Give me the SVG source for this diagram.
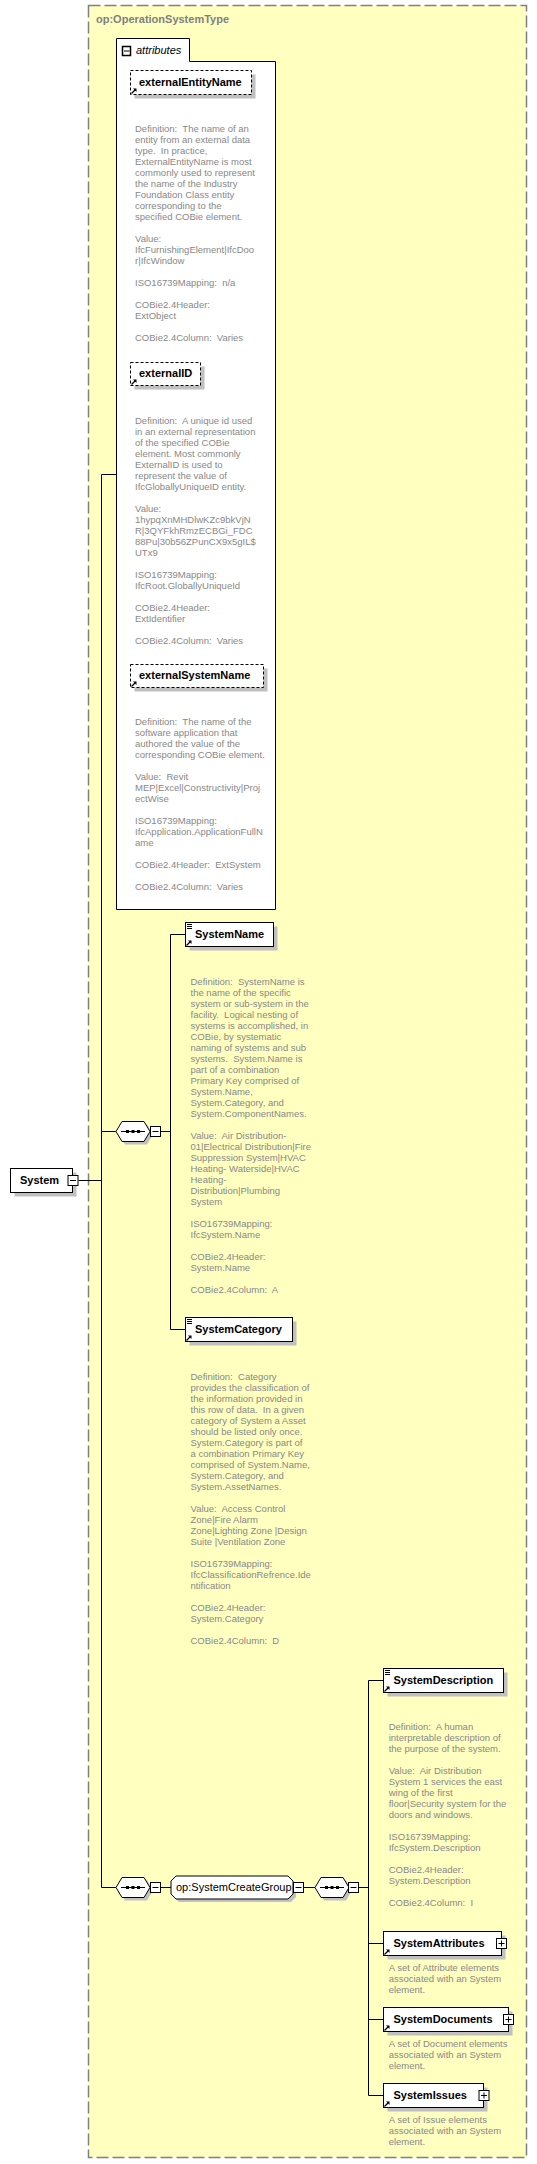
<svg xmlns="http://www.w3.org/2000/svg" width="537" height="2164" viewBox="0 0 537 2164">
<style>
.bg{fill:#ffffff}
.type{fill:#ffffc0;stroke:#808080;stroke-width:1.5;stroke-dasharray:12,4}
.title{font-family:"Liberation Sans",Arial,sans-serif;font-size:11px;font-weight:bold;fill:#808080}
.box{fill:#ffffff;stroke:#000000;stroke-width:1}
.abox{fill:#ffffff;stroke:#000000;stroke-width:1;stroke-dasharray:3,2}
.shadow{fill:#c0c0c0;stroke:none}
.lbl{font-family:"Liberation Sans",Arial,sans-serif;font-size:11px;font-weight:bold;fill:#000000}
.lblr{font-family:"Liberation Sans",Arial,sans-serif;font-size:11px;fill:#000000}
.ital{font-family:"Liberation Sans",Arial,sans-serif;font-size:11px;font-style:italic;fill:#000000}
.desc{font-family:"Liberation Sans",Arial,sans-serif;font-size:9.5px;fill:#888888}
.conn{fill:none;stroke:#000000;stroke-width:1}
.icon{fill:none;stroke:#000000;stroke-width:1}
</style>
<defs>
<g id="minus"><rect x="0.5" y="0.5" width="10" height="10" fill="#ffffff" stroke="#000" stroke-width="1"/><path d="M2.5,5.5 H8.5" stroke="#000" stroke-width="1"/></g>
<g id="plus"><rect x="0.5" y="0.5" width="10" height="10" fill="#ffffff" stroke="#000" stroke-width="1"/><path d="M2.5,5.5 H8.5 M5.5,2.5 V8.5" stroke="#000" stroke-width="1"/></g>
<g id="refarrow"><path d="M0.5,5.5 L4,2" stroke="#000" stroke-width="1.2"/><polygon points="2,0.5 5.5,0.5 5.5,4" fill="#000"/></g>
<g id="simple"><path d="M0,0.5 H5 M0,2.5 H5 M0,4.5 H5" stroke="#000" stroke-width="1"/></g>
<g id="seq"><polygon points="3,3 9,-7 31,-7 37,3 31,13 9,13" fill="#c0c0c0" transform="translate(0,0)"/><polygon points="0,0 6,-10 28,-10 34,0 28,10 6,10" fill="#ffffff" stroke="#000" stroke-width="1"/><path d="M5,0 H29" stroke="#000" stroke-width="1"/><rect x="10" y="-1.5" width="3" height="3" fill="#000"/><rect x="15.5" y="-1.5" width="3" height="3" fill="#000"/><rect x="21" y="-1.5" width="3" height="3" fill="#000"/></g>
</defs>

<rect class="type" x="88.5" y="5.5" width="438" height="2152"/>
<text class="title" x="96" y="23">op:OperationSystemType</text>

<g id="connectors">
<path class="conn" d="M101.5,474.5 H116.5"/>
<path class="conn" d="M101.5,474.5 V1887.5 H116"/>
<path class="conn" d="M78.5,1180.5 H101.5"/>
<path class="conn" d="M101.5,1131.5 H116"/>
<path class="conn" d="M161,1131.5 H170.5"/>
<path class="conn" d="M170.5,934.5 V1329.5"/>
<path class="conn" d="M170.5,934.5 H185.5"/>
<path class="conn" d="M170.5,1329.5 H185.5"/>
<path class="conn" d="M161,1887.5 H171"/>
<path class="conn" d="M304,1887.5 H315"/>
<path class="conn" d="M359,1887.5 H368.5"/>
<path class="conn" d="M368.5,1680.5 V2095.5"/>
<path class="conn" d="M368.5,1680.5 H383.5"/>
<path class="conn" d="M368.5,1943.5 H383.5"/>
<path class="conn" d="M368.5,2019.5 H383.5"/>
<path class="conn" d="M368.5,2095.5 H383.5"/>
</g>

<g id="attributes">
<path class="box" d="M116.5,909.5 V38.5 H189.5 V61.5 H275.5 V909.5 Z"/>
<rect x="122.5" y="46.5" width="8" height="9" fill="#fff" stroke="#000" stroke-width="1.5"/>
<path d="M124,51 H129.5" stroke="#000" stroke-width="1"/>
<text class="ital" x="136" y="54">attributes</text>
</g>

<g id="externalEntityName">
<rect class="shadow" x="134.5" y="74.5" width="121" height="24"/>
<rect class="abox" x="130.5" y="70.5" width="121" height="24"/>
<use href="#refarrow" x="131" y="88"/>
<text class="lbl" x="139" y="86">externalEntityName</text>
<text class="desc" xml:space="preserve"><tspan x="135" y="132.2">Definition:  The name of an</tspan><tspan x="135" dy="11">entity from an external data</tspan><tspan x="135" dy="11">type.  In practice,</tspan><tspan x="135" dy="11">ExternalEntityName is most</tspan><tspan x="135" dy="11">commonly used to represent</tspan><tspan x="135" dy="11">the name of the Industry</tspan><tspan x="135" dy="11">Foundation Class entity</tspan><tspan x="135" dy="11">corresponding to the</tspan><tspan x="135" dy="11">specified COBie element.</tspan><tspan x="135" dy="22">Value:</tspan><tspan x="135" dy="11">IfcFurnishingElement|IfcDoo</tspan><tspan x="135" dy="11">r|IfcWindow</tspan><tspan x="135" dy="22">ISO16739Mapping:  n/a</tspan><tspan x="135" dy="22">COBie2.4Header:</tspan><tspan x="135" dy="11">ExtObject</tspan><tspan x="135" dy="22">COBie2.4Column:  Varies</tspan></text>
</g>

<g id="externalID">
<rect class="shadow" x="134.5" y="366.5" width="70" height="23"/>
<rect class="abox" x="130.5" y="362.5" width="70" height="23"/>
<use href="#refarrow" x="131" y="379"/>
<text class="lbl" x="139" y="377">externalID</text>
<text class="desc" xml:space="preserve"><tspan x="135" y="423.5">Definition:  A unique id used</tspan><tspan x="135" dy="11">in an external representation</tspan><tspan x="135" dy="11">of the specified COBie</tspan><tspan x="135" dy="11">element. Most commonly</tspan><tspan x="135" dy="11">ExternalID is used to</tspan><tspan x="135" dy="11">represent the value of</tspan><tspan x="135" dy="11">IfcGloballyUniqueID entity.</tspan><tspan x="135" dy="22">Value:</tspan><tspan x="135" dy="11">1hypqXnMHDlwKZc9bkVjN</tspan><tspan x="135" dy="11">R|3QYFkhRmzECBGi_FDC</tspan><tspan x="135" dy="11">88Pu|30b56ZPunCX9x5gIL$</tspan><tspan x="135" dy="11">UTx9</tspan><tspan x="135" dy="22">ISO16739Mapping:</tspan><tspan x="135" dy="11">IfcRoot.GloballyUniqueId</tspan><tspan x="135" dy="22">COBie2.4Header:</tspan><tspan x="135" dy="11">ExtIdentifier</tspan><tspan x="135" dy="22">COBie2.4Column:  Varies</tspan></text>
</g>

<g id="externalSystemName">
<rect class="shadow" x="134.5" y="668.5" width="133" height="23"/>
<rect class="abox" x="130.5" y="664.5" width="133" height="23"/>
<use href="#refarrow" x="131" y="681"/>
<text class="lbl" x="139" y="679">externalSystemName</text>
<text class="desc" xml:space="preserve"><tspan x="135" y="725">Definition:  The name of the</tspan><tspan x="135" dy="11">software application that</tspan><tspan x="135" dy="11">authored the value of the</tspan><tspan x="135" dy="11">corresponding COBie element.</tspan><tspan x="135" dy="22">Value:  Revit</tspan><tspan x="135" dy="11">MEP|Excel|Constructivity|Proj</tspan><tspan x="135" dy="11">ectWise</tspan><tspan x="135" dy="22">ISO16739Mapping:</tspan><tspan x="135" dy="11">IfcApplication.ApplicationFullN</tspan><tspan x="135" dy="11">ame</tspan><tspan x="135" dy="22">COBie2.4Header:  ExtSystem</tspan><tspan x="135" dy="22">COBie2.4Column:  Varies</tspan></text>
</g>

<g id="System">
<rect class="shadow" x="14.5" y="1172.5" width="62" height="24"/>
<rect class="box" x="10.5" y="1168.5" width="62" height="24"/>
<text class="lbl" x="20" y="1184">System</text>
<use href="#minus" x="67.5" y="1175"/>
</g>

<g id="seq1">
<use href="#seq" x="116" y="1131.5"/>
<use href="#minus" x="150" y="1126"/>
</g>

<g id="SystemName">
<rect class="shadow" x="189.5" y="926.5" width="88" height="24"/>
<rect class="box" x="185.5" y="922.5" width="88" height="24"/>
<use href="#simple" x="187" y="924"/>
<use href="#refarrow" x="186" y="940"/>
<text class="lbl" x="195" y="938">SystemName</text>
<text class="desc" xml:space="preserve"><tspan x="190.5" y="984.5">Definition:  SystemName is</tspan><tspan x="190.5" dy="11">the name of the specific</tspan><tspan x="190.5" dy="11">system or sub-system in the</tspan><tspan x="190.5" dy="11">facility.  Logical nesting of</tspan><tspan x="190.5" dy="11">systems is accomplished, in</tspan><tspan x="190.5" dy="11">COBie, by systematic</tspan><tspan x="190.5" dy="11">naming of systems and sub</tspan><tspan x="190.5" dy="11">systems.  System.Name is</tspan><tspan x="190.5" dy="11">part of a combination</tspan><tspan x="190.5" dy="11">Primary Key comprised of</tspan><tspan x="190.5" dy="11">System.Name,</tspan><tspan x="190.5" dy="11">System.Category, and</tspan><tspan x="190.5" dy="11">System.ComponentNames.</tspan><tspan x="190.5" dy="22">Value:  Air Distribution-</tspan><tspan x="190.5" dy="11">01|Electrical Distribution|Fire</tspan><tspan x="190.5" dy="11">Suppression System|HVAC</tspan><tspan x="190.5" dy="11">Heating- Waterside|HVAC</tspan><tspan x="190.5" dy="11">Heating-</tspan><tspan x="190.5" dy="11">Distribution|Plumbing</tspan><tspan x="190.5" dy="11">System</tspan><tspan x="190.5" dy="22">ISO16739Mapping:</tspan><tspan x="190.5" dy="11">IfcSystem.Name</tspan><tspan x="190.5" dy="22">COBie2.4Header:</tspan><tspan x="190.5" dy="11">System.Name</tspan><tspan x="190.5" dy="22">COBie2.4Column:  A</tspan></text>
</g>

<g id="SystemCategory">
<rect class="shadow" x="189.5" y="1321.5" width="107" height="24"/>
<rect class="box" x="185.5" y="1317.5" width="107" height="24"/>
<use href="#simple" x="187" y="1319"/>
<use href="#refarrow" x="186" y="1335"/>
<text class="lbl" x="195" y="1333">SystemCategory</text>
<text class="desc" xml:space="preserve"><tspan x="190.5" y="1379.5">Definition:  Category</tspan><tspan x="190.5" dy="11">provides the classification of</tspan><tspan x="190.5" dy="11">the information provided in</tspan><tspan x="190.5" dy="11">this row of data.  In a given</tspan><tspan x="190.5" dy="11">category of System a Asset</tspan><tspan x="190.5" dy="11">should be listed only once.</tspan><tspan x="190.5" dy="11">System.Category is part of</tspan><tspan x="190.5" dy="11">a combination Primary Key</tspan><tspan x="190.5" dy="11">comprised of System.Name,</tspan><tspan x="190.5" dy="11">System.Category, and</tspan><tspan x="190.5" dy="11">System.AssetNames.</tspan><tspan x="190.5" dy="22">Value:  Access Control</tspan><tspan x="190.5" dy="11">Zone|Fire Alarm</tspan><tspan x="190.5" dy="11">Zone|Lighting Zone |Design</tspan><tspan x="190.5" dy="11">Suite |Ventilation Zone</tspan><tspan x="190.5" dy="22">ISO16739Mapping:</tspan><tspan x="190.5" dy="11">IfcClassificationRefrence.Ide</tspan><tspan x="190.5" dy="11">ntification</tspan><tspan x="190.5" dy="22">COBie2.4Header:</tspan><tspan x="190.5" dy="11">System.Category</tspan><tspan x="190.5" dy="22">COBie2.4Column:  D</tspan></text>
</g>

<g id="seq2">
<use href="#seq" x="116" y="1887.5"/>
<use href="#minus" x="150" y="1882"/>
</g>

<g id="SystemCreateGroup">
<polygon class="shadow" points="174,1884 179,1879 291,1879 296,1884 296,1897 291,1902 179,1902 174,1897"/>
<polygon class="box" points="171,1881 176,1876 288,1876 293,1881 293,1894 288,1899 176,1899 171,1894"/>
<text class="lblr" x="176" y="1891">op:SystemCreateGroup</text>
<use href="#minus" x="293" y="1882"/>
</g>

<g id="seq3">
<use href="#seq" x="315" y="1887.5"/>
<use href="#minus" x="348" y="1882"/>
</g>

<g id="SystemDescription">
<rect class="shadow" x="387.5" y="1672.5" width="120" height="24"/>
<rect class="box" x="383.5" y="1668.5" width="120" height="24"/>
<use href="#simple" x="385" y="1670"/>
<use href="#refarrow" x="384" y="1686"/>
<text class="lbl" x="393.5" y="1684">SystemDescription</text>
<text class="desc" xml:space="preserve"><tspan x="388.7" y="1730">Definition:  A human</tspan><tspan x="388.7" dy="11">interpretable description of</tspan><tspan x="388.7" dy="11">the purpose of the system.</tspan><tspan x="388.7" dy="22">Value:  Air Distribution</tspan><tspan x="388.7" dy="11">System 1 services the east</tspan><tspan x="388.7" dy="11">wing of the first</tspan><tspan x="388.7" dy="11">floor|Security system for the</tspan><tspan x="388.7" dy="11">doors and windows.</tspan><tspan x="388.7" dy="22">ISO16739Mapping:</tspan><tspan x="388.7" dy="11">IfcSystem.Description</tspan><tspan x="388.7" dy="22">COBie2.4Header:</tspan><tspan x="388.7" dy="11">System.Description</tspan><tspan x="388.7" dy="22">COBie2.4Column:  I</tspan></text>
</g>

<g id="SystemAttributes">
<rect class="shadow" x="387.5" y="1935.5" width="118" height="24"/>
<rect class="box" x="383.5" y="1931.5" width="118" height="24"/>
<use href="#refarrow" x="384" y="1949"/>
<text class="lbl" x="393.5" y="1947">SystemAttributes</text>
<use href="#plus" x="496" y="1938"/>
<text class="desc"><tspan x="388.7" y="1971">A set of Attribute elements</tspan><tspan x="388.7" dy="11">associated with an System</tspan><tspan x="388.7" dy="11">element.</tspan></text>
</g>

<g id="SystemDocuments">
<rect class="shadow" x="387.5" y="2011.5" width="125" height="24"/>
<rect class="box" x="383.5" y="2007.5" width="125" height="24"/>
<use href="#refarrow" x="384" y="2025"/>
<text class="lbl" x="393.5" y="2023">SystemDocuments</text>
<use href="#plus" x="503" y="2014"/>
<text class="desc"><tspan x="388.7" y="2047">A set of Document elements</tspan><tspan x="388.7" dy="11">associated with an System</tspan><tspan x="388.7" dy="11">element.</tspan></text>
</g>

<g id="SystemIssues">
<rect class="shadow" x="387.5" y="2087.5" width="100" height="24"/>
<rect class="box" x="383.5" y="2083.5" width="100" height="24"/>
<use href="#refarrow" x="384" y="2101"/>
<text class="lbl" x="393.5" y="2099">SystemIssues</text>
<use href="#plus" x="478.5" y="2090"/>
<text class="desc"><tspan x="388.7" y="2123">A set of Issue elements</tspan><tspan x="388.7" dy="11">associated with an System</tspan><tspan x="388.7" dy="11">element.</tspan></text>
</g>
</svg>
